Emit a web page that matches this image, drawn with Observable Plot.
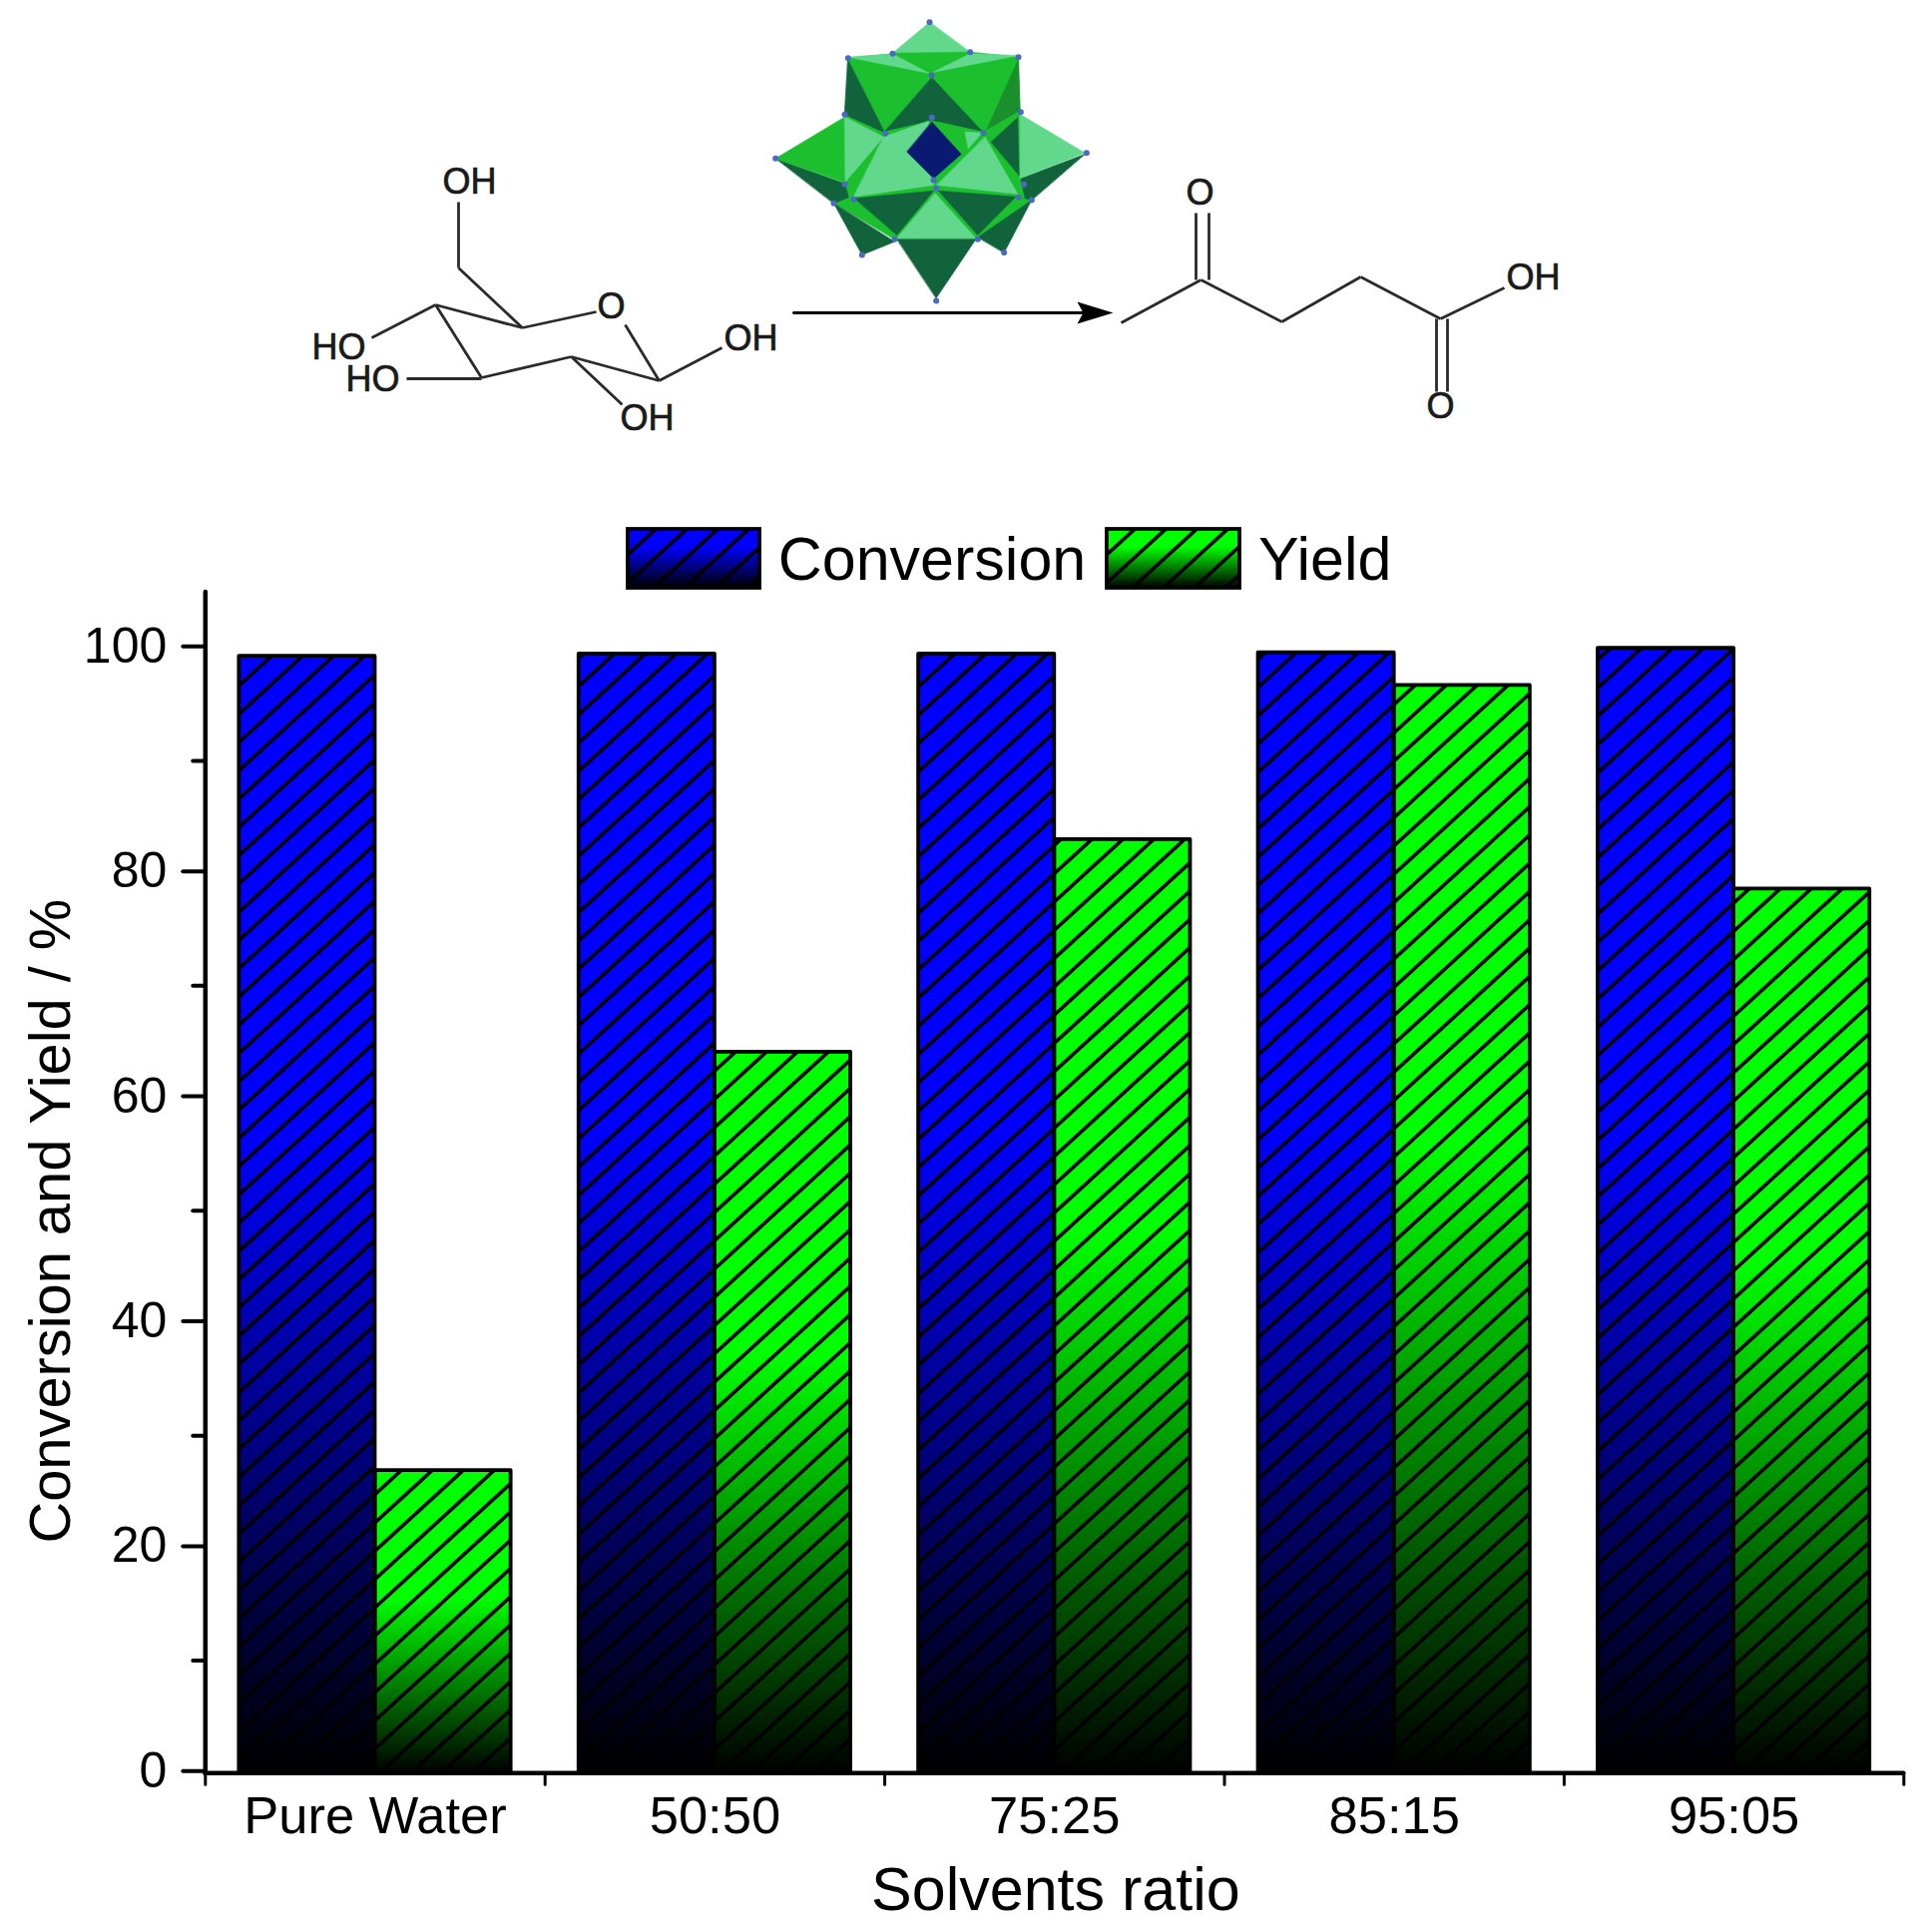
<!DOCTYPE html>
<html><head><meta charset="utf-8">
<script src="https://cdn.jsdelivr.net/npm/d3@7"></script>
<script src="https://cdn.jsdelivr.net/npm/@observablehq/plot@0.6"></script>
<style>html,body{margin:0;padding:0;background:#fff}svg{display:block}</style>
</head><body><div id="top"></div><div id="chart"></div>
<script>
// chart values
const categories = ["Pure Water","50:50","75:25","85:15","95:05"];
const conversion = [99.3,99.5,99.5,99.6,100];
const yieldPct   = [26.9,64.1,83.0,96.7,78.6];
const yMajor = [0,20,40,60,80,100];
const yMinor = [10,30,50,70,90];
const xEdges = [0,1,2,3,4,5];
const xCentres = [0.5,1.5,2.5,3.5,4.5];
const legendItems = [
  {name:"Conversion",x1:1.2447,x2:1.6325,tx:1.686,fill:"url(#lgBlue)",hatch:"url(#lgHatchA)"},
  {name:"Yield",x1:2.6548,x2:3.0455,tx:3.1,fill:"url(#lgGreen)",hatch:"url(#lgHatchB)"}
];
const FONT = "'Liberation Sans',Arial,sans-serif";

// illustration: polyhedron faces, in a 3x picture grid whose origin is (770,0)
const LIGHT="#62d88c", MID="#1cc02f", DARK="#10633a", DEEP="#1a8f2c", NAVY="#0a1a70";
const faces = [
 [MID,[238,173],[372,160],[605,155],[750,170],[755,340],[770,560],[790,600],[628,718],[378,718],[195,610],[228,550],[228,343]],
 [DARK,[385,718],[622,718],[503,895]],
 [DARK,[195,610],[280,765],[378,725]],
 [MID,[210,600],[255,595],[375,715]],
 [DARK,[628,712],[790,600],[707,758]],
 [MID,[635,700],[750,595],[778,600]],
 [DARK,[20,475],[228,550],[240,592],[195,610]],
 [MID,[20,475],[228,350],[230,548]],
 [LIGHT,[228,350],[345,410],[230,545]],
 [DARK,[950,462],[757,535],[770,595],[790,600]],
 [LIGHT,[755,342],[950,458],[755,535]],
 [DARK,[668,425],[748,352],[752,525]],
 [DARK,[238,173],[350,398],[228,343]],
 [LIGHT,[238,170],[372,160],[480,218]],
 [MID,[240,178],[490,225],[350,395]],
 [LIGHT,[483,65],[372,158],[605,155]],
 [MID,[372,158],[605,155],[490,218]],
 [LIGHT,[495,215],[605,160],[750,165]],
 [MID,[750,172],[495,225],[640,392]],
 [DEEP,[750,178],[755,330],[655,388]],
 [DARK,[490,232],[640,392],[490,360],[350,392]],
 [MID,[510,365],[640,398],[585,462]],
 [LIGHT,[590,395],[640,398],[600,445]],
 [MID,[345,410],[240,590],[255,598]],
 [LIGHT,[345,410],[480,362],[495,555],[255,590]],
 [MID,[650,410],[752,545],[758,590]],
 [LIGHT,[650,410],[748,582],[505,555]],
 [NAVY,[490,365],[578,462],[495,535],[415,455]],
 [DARK,[258,595],[495,572],[385,705]],
 [DARK,[510,572],[742,590],[628,705]],
 [LIGHT,[500,580],[622,715],[385,715]]
];
const polyVertices = [[483,65],[372,160],[605,155],[238,173],[750,170],[490,225],[228,343],[350,400],[645,398],[757,335],[490,352],[20,475],[955,458],[228,553],[495,540],[503,565],[255,598],[750,592],[767,553],[195,610],[790,600],[378,718],[628,718],[280,765],[707,758],[503,903]];

// molecules, in picture pixels
const glucoseBonds = [[459,202,459,268],[459,268,523,328],[436,305,523,328],[523,328,597,312],[436,305,372,338],[436,305,482,378],[407,379,482,379],[482,378,572,357],[572,357,660,381],[626,325,660,381],[660,381,723,348],[572,357,623,405]];
const acidBonds = [[1123,323,1203,280],[1203,280,1284,322],[1284,322,1363,277],[1363,277,1443,319],[1443,319,1507,288],[1198,213,1198,280],[1211,213,1211,280],[1439,319,1439,392],[1450,319,1450,392]];
const atomLabels = [["OH",470,182],["O",612,307],["HO",339,348],["HO",373,380],["OH",752,339],["OH",648,419],["O",1202,193],["OH",1536,278],["O",1443,407]];
const arrowLine = [[795,313],[1088,313]];
const arrowHead = [[1079,302],[1115,313],[1079,324],[1085,313]];

const rows = categories.flatMap((c,i)=>[
  {c,x1:i+0.1,x2:i+0.5,v:conversion[i],s:"c"},
  {c,x1:i+0.5,x2:i+0.9,v:yieldPct[i],s:"y"}
]);

function defs(){
  const g = d3.create("svg:defs");
  const grad=(id,col,stop)=>{
    const l=g.append("linearGradient").attr("id",id).attr("x1",0).attr("y1",0).attr("x2",0).attr("y2",1);
    l.append("stop").attr("offset",0).attr("stop-color",col);
    l.append("stop").attr("offset",stop).attr("stop-color",col);
    l.append("stop").attr("offset",1).attr("stop-color","#000");
  };
  grad("barBlue","#0000ff",0.42); grad("barGreen","#00ff00",0.42);
  grad("lgBlue","#0000ff",0.3); grad("lgGreen","#00ff00",0.3);
  const hatch=(id,x,y)=>{
    const w=31,h=28.33;
    const p=g.append("pattern").attr("id",id).attr("patternUnits","userSpaceOnUse")
      .attr("width",w).attr("height",h).attr("x",x).attr("y",y-h);
    p.append("path").attr("d",`M${-w},${2*h}L${2*w},${-h}M${-w},${h}L${w},${-h}M0,${2*h}L${2*w},0`)
      .attr("stroke","#000").attr("stroke-width",3.6).attr("fill","none");
  };
  hatch("barHatch",240,186.7);
  hatch("lgHatchA",630,55);
  hatch("lgHatchB",1110,55);
  return g.node();
}

const top_ = Plot.plot({
  width:1933,height:500,margin:0,
  x:{domain:[0,1933],range:[0,1933],axis:null},
  y:{domain:[0,500],range:[0,500],axis:null},
  style:{fontFamily:FONT,background:"transparent"},
  marks:[
    faces.map(([c,...pts])=>Plot.line(pts,{x:d=>770+d[0]/3,y:d=>d[1]/3,curve:"linear-closed",fill:c,stroke:c,strokeWidth:0.6})),
    Plot.dot(polyVertices,{x:d=>770+d[0]/3,y:d=>d[1]/3,r:3,fill:"#4a68c4"}),
    Plot.link(glucoseBonds.concat(acidBonds),{x1:d=>d[0],y1:d=>d[1],x2:d=>d[2],y2:d=>d[3],stroke:"#2a2a2a",strokeWidth:2.8}),
    Plot.line(arrowLine,{x:d=>d[0],y:d=>d[1],stroke:"#000",strokeWidth:2.8}),
    Plot.line(arrowHead,{x:d=>d[0],y:d=>d[1],curve:"linear-closed",fill:"#000",stroke:"none"}),
    Plot.text(atomLabels,{x:d=>d[1],y:d=>d[2],text:d=>d[0],fontSize:36,fill:"#1a1a1a",stroke:"#1a1a1a",strokeWidth:0.7})
  ]
});
document.getElementById("top").append(top_);

const chart = Plot.plot({
  width:1933,height:1436,
  marginLeft:205.3,marginRight:25.7,marginTop:92.9,marginBottom:159.7,
  x:{domain:[0,5],axis:null},
  y:{domain:[0,105],axis:null},
  style:{fontFamily:FONT,background:"#fff",color:"#000"},
  marks:[
    defs,
    Plot.rectY(rows.filter(d=>d.s==="c"),{x1:"x1",x2:"x2",y1:0,y2:"v",fill:"url(#barBlue)"}),
    Plot.rectY(rows.filter(d=>d.s==="y"),{x1:"x1",x2:"x2",y1:0,y2:"v",fill:"url(#barGreen)"}),
    Plot.rectY(rows,{x1:"x1",x2:"x2",y1:0,y2:"v",fill:"url(#barHatch)",stroke:"#000",strokeWidth:3.8,strokeLinejoin:"round"}),
    Plot.rect(legendItems,{x1:"x1",x2:"x2",y1:105.35,y2:110.58,fill:"fill"}),
    Plot.rect(legendItems,{x1:"x1",x2:"x2",y1:105.35,y2:110.58,fill:"hatch",stroke:"#000",strokeWidth:3.8}),
    Plot.text(legendItems,{x:"tx",y:107.8,text:"name",textAnchor:"start",fontSize:61,fill:"#000"}),
    Plot.axisY({ticks:yMajor,tickSize:22,tickPadding:16.5,fontSize:50,strokeWidth:4,label:null,tickFormat:d=>d,strokeLinecap:"round",dy:-2}),
    Plot.axisY({ticks:yMinor,tickSize:12,strokeWidth:4,label:null,tickFormat:()=>"",strokeLinecap:"round"}),
    Plot.axisX({ticks:xEdges,tickSize:12,strokeWidth:3,label:null,tickFormat:()=>"",strokeLinecap:"round"}),
    Plot.axisX({ticks:xCentres,tickSize:0,tickPadding:23,fontSize:52.5,label:null,tickFormat:d=>categories[Math.floor(d)]}),
    Plot.ruleX([0],{y1:0,y2:105,strokeWidth:4.5,strokeLinecap:"round"}),
    Plot.ruleY([0],{x1:0,x2:5,strokeWidth:4.5,strokeLinecap:"round"}),
    Plot.text(["Solvents ratio"],{x:2.503,y:-10.4,text:d=>d,fontSize:61,fill:"#000"}),
    Plot.text(["Conversion and Yield / %"],{x:-0.452,y:49.08,text:d=>d,fontSize:57.8,rotate:-90,fill:"#000"})
  ]
});
document.getElementById("chart").append(chart);
</script></body></html>
